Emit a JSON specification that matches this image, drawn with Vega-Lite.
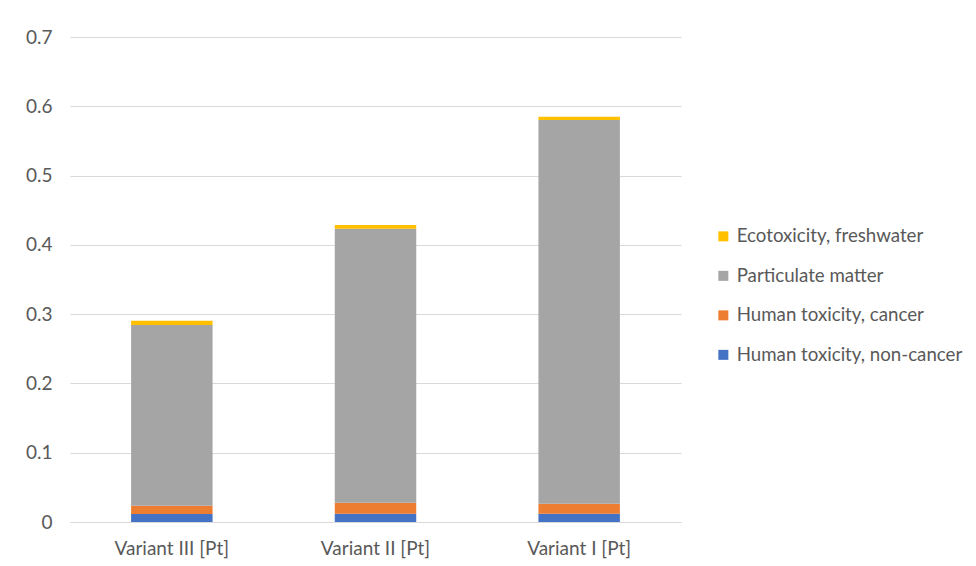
{
  "$schema": "https://vega.github.io/schema/vega-lite/v6.json",
  "width": 611,
  "height": 485,
  "autosize": {"type": "none"},
  "padding": {"left": 70, "top": 37, "right": 295, "bottom": 44},
  "background": "white",
  "config": {
    "font": "Lato",
    "view": {"stroke": null},
    "axis": {"labelFont": "Lato", "labelFontSize": 19, "labelColor": "#595959"},
    "legend": {"labelFont": "Lato", "labelFontSize": 18.7, "labelColor": "#595959", "labelLimit": 0}
  },
  "data": {
    "values": [
      {"variant": "Variant III [Pt]", "impact": "Human toxicity, non-cancer", "value": 0.0115},
      {"variant": "Variant III [Pt]", "impact": "Human toxicity, cancer", "value": 0.012},
      {"variant": "Variant III [Pt]", "impact": "Particulate matter", "value": 0.261},
      {"variant": "Variant III [Pt]", "impact": "Ecotoxicity, freshwater", "value": 0.0058},
      {"variant": "Variant II [Pt]", "impact": "Human toxicity, non-cancer", "value": 0.012},
      {"variant": "Variant II [Pt]", "impact": "Human toxicity, cancer", "value": 0.0159},
      {"variant": "Variant II [Pt]", "impact": "Particulate matter", "value": 0.3955},
      {"variant": "Variant II [Pt]", "impact": "Ecotoxicity, freshwater", "value": 0.0053},
      {"variant": "Variant I [Pt]", "impact": "Human toxicity, non-cancer", "value": 0.012},
      {"variant": "Variant I [Pt]", "impact": "Human toxicity, cancer", "value": 0.0144},
      {"variant": "Variant I [Pt]", "impact": "Particulate matter", "value": 0.5537},
      {"variant": "Variant I [Pt]", "impact": "Ecotoxicity, freshwater", "value": 0.0048}
    ]
  },
  "transform": [
    {"calculate": "indexof(['Human toxicity, non-cancer','Human toxicity, cancer','Particulate matter','Ecotoxicity, freshwater'], datum.impact)", "as": "stackOrder"}
  ],
  "mark": {"type": "bar"},
  "encoding": {
    "x": {
      "field": "variant", "type": "nominal",
      "sort": ["Variant III [Pt]", "Variant II [Pt]", "Variant I [Pt]"],
      "scale": {"paddingInner": 0.6, "paddingOuter": 0.3},
      "axis": {"title": null, "labelAngle": 0, "ticks": false, "domainColor": "#d9d9d9", "domainWidth": 1, "labelPadding": 17}
    },
    "y": {
      "field": "value", "type": "quantitative", "stack": "zero",
      "scale": {"domain": [0, 0.7]},
      "axis": {"title": null, "values": [0, 0.1, 0.2, 0.3, 0.4, 0.5, 0.6, 0.7], "format": "~g", "ticks": false, "domain": false, "gridColor": "#d9d9d9", "labelPadding": 18}
    },
    "color": {
      "field": "impact", "type": "nominal",
      "scale": {
        "domain": ["Ecotoxicity, freshwater", "Particulate matter", "Human toxicity, cancer", "Human toxicity, non-cancer"],
        "range": ["#FFC000", "#A5A5A5", "#ED7D31", "#4472C4"]
      },
      "legend": {"title": null, "orient": "none", "legendX": 644, "legendY": 190, "symbolType": "square", "symbolSize": 100, "rowPadding": 19.5, "labelOffset": 4, "symbolStrokeWidth": 0}
    },
    "order": {"field": "stackOrder", "type": "quantitative"}
  }
}
